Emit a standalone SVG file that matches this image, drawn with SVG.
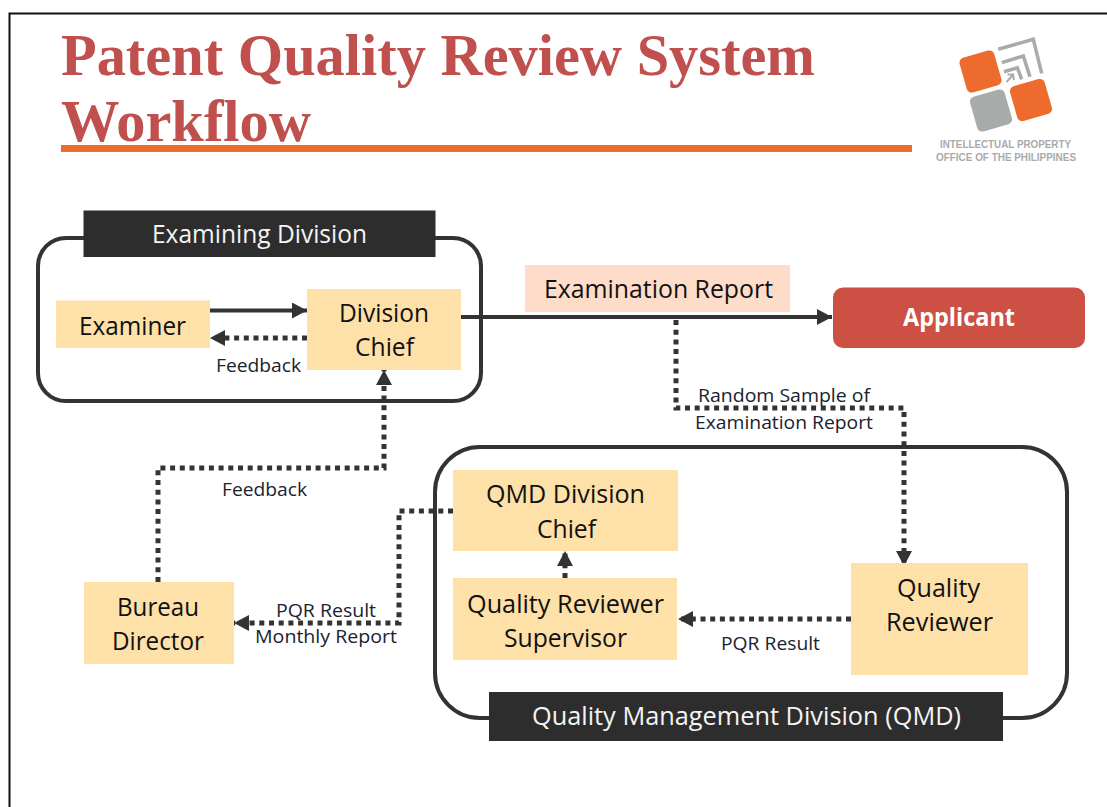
<svg xmlns="http://www.w3.org/2000/svg" width="1107" height="807" viewBox="0 0 1107 807">
<style>
.t{font-family:"Open Sans","Liberation Sans",sans-serif;text-anchor:middle}
.n{font-size:26px;fill:#111}
.l{font-size:19px;fill:#1a2230}
.h{font-size:25px;fill:#f4f4f4}
.b{fill:#fee0a9}
.c{fill:none;stroke:#333;stroke-width:4}
.s{fill:none;stroke:#333;stroke-width:4}
.d{fill:none;stroke:#333;stroke-width:5;stroke-dasharray:5 4.7}
.o{fill:#ec6b2d}
.g{fill:#a9abab}
.ch{fill:none;stroke:#a9abab;stroke-width:3.5}
.ti{font-family:"Liberation Serif",serif;font-weight:700;font-size:60px;fill:#c0504d}
.lg{font-family:"Liberation Sans",sans-serif;font-weight:700;font-size:10px;fill:#a8aaaa;text-anchor:middle}
</style>
<defs>
<marker id="a" markerUnits="userSpaceOnUse" markerWidth="17" markerHeight="17" refX="15" refY="8" orient="auto"><path d="M0,0L15,8L0,16Z" fill="#333"/></marker>
</defs>
<rect width="1107" height="807" fill="#fff"/>
<path d="M9.500,807V13.500H1107" fill="none" stroke="#111" stroke-width="2"/>
<g id="title">
<text class="ti" x="61" y="75" textLength="754" lengthAdjust="spacingAndGlyphs">Patent Quality Review System</text>
<text class="ti" x="61" y="141" textLength="250" lengthAdjust="spacingAndGlyphs">Workflow</text>
<rect x="61" y="145" width="851" height="7" fill="#ec6b2d"/>
</g>
<g id="logo">
<rect class="o" x="962.500" y="53.500" width="36" height="36" rx="5" transform="rotate(-16 980.5 71.5)"/>
<rect class="g" x="973" y="92.500" width="36" height="36" rx="5" transform="rotate(-16 991 110.5)"/>
<rect class="o" x="1013" y="82" width="36" height="36" rx="5" transform="rotate(-16 1031 100)"/>
<path class="ch" d="M998.300,49.300L1033.300,39.300L1041.700,73.300"/>
<path class="ch" d="M1001.700,62.700L1023.300,56L1030,76.700"/>
<path class="ch" d="M1004,71.700L1017.300,67.700L1021.700,79.300"/>
<path class="ch" style="stroke-width:2" d="M1006.500,82L1012.500,75.500M1007.500,74.500L1013,74.500L1014,80"/>
<text class="lg" x="1005.500" y="147.500" textLength="131" lengthAdjust="spacingAndGlyphs">INTELLECTUAL PROPERTY</text>
<text class="lg" x="1006" y="161" textLength="140" lengthAdjust="spacingAndGlyphs">OFFICE OF THE PHILIPPINES</text>
</g>
<g id="examining-division-frame"><rect class="c" x="38" y="238" width="443" height="163" rx="28"/></g>
<g id="qmd-frame"><rect class="c" x="435" y="447" width="632" height="271" rx="45"/></g>
<g id="connectors">
<path class="s" d="M210,310.500H307" marker-end="url(#a)"/>
<path class="d" d="M307,338H210" marker-end="url(#a)"/>
<path class="s" d="M461,317H832" marker-end="url(#a)"/>
<path class="d" d="M676,320V408H904V566" marker-end="url(#a)"/>
<path class="d" d="M158,582V468H384V370" marker-end="url(#a)"/>
<path class="d" d="M453,511H399V623H234" marker-end="url(#a)"/>
<path class="d" d="M565,578V551" marker-end="url(#a)"/>
<path class="d" d="M851,619H678" marker-end="url(#a)"/>
</g>
<g id="examining-division"><rect x="83.500" y="210.500" width="352" height="46.500" fill="#2d2d2d"/><text class="t h" x="259.500" y="243" textLength="215" lengthAdjust="spacingAndGlyphs">Examining Division</text></g>
<g id="examiner"><rect class="b" x="56" y="300.500" width="154" height="47.500"/><text class="t n" x="132.500" y="335" textLength="107" lengthAdjust="spacingAndGlyphs">Examiner</text></g>
<g id="division-chief"><rect class="b" x="307" y="289" width="154" height="81"/><text class="t n" x="384" y="322" textLength="90" lengthAdjust="spacingAndGlyphs">Division</text><text class="t n" x="384.500" y="356" textLength="59" lengthAdjust="spacingAndGlyphs">Chief</text></g>
<g id="examination-report"><rect x="525" y="265" width="265" height="47" fill="#fddcc9"/><text class="t h" x="658.500" y="298" textLength="229" lengthAdjust="spacingAndGlyphs" style="fill:#111">Examination Report</text></g>
<g id="applicant"><rect x="833" y="287.500" width="252" height="60.500" rx="10" fill="#cd5044"/><text class="t" x="959" y="326" font-size="25" font-weight="700" fill="#fff" textLength="112" lengthAdjust="spacingAndGlyphs">Applicant</text></g>
<g id="qmd-division-chief"><rect class="b" x="453" y="470" width="225" height="81"/><text class="t n" x="565.500" y="503" textLength="159" lengthAdjust="spacingAndGlyphs">QMD Division</text><text class="t n" x="566.500" y="538" textLength="59" lengthAdjust="spacingAndGlyphs">Chief</text></g>
<g id="quality-reviewer-supervisor"><rect class="b" x="453" y="578" width="224" height="82"/><text class="t n" x="565.500" y="613" textLength="197" lengthAdjust="spacingAndGlyphs">Quality Reviewer</text><text class="t n" x="565.500" y="647" textLength="123" lengthAdjust="spacingAndGlyphs">Supervisor</text></g>
<g id="quality-reviewer"><rect class="b" x="851" y="563" width="177" height="112"/><text class="t n" x="938.500" y="597" textLength="83" lengthAdjust="spacingAndGlyphs">Quality</text><text class="t n" x="939.500" y="631" textLength="107" lengthAdjust="spacingAndGlyphs">Reviewer</text></g>
<g id="bureau-director"><rect class="b" x="84" y="582" width="150" height="82"/><text class="t n" x="158" y="616" textLength="82" lengthAdjust="spacingAndGlyphs">Bureau</text><text class="t n" x="158" y="650" textLength="92" lengthAdjust="spacingAndGlyphs">Director</text></g>
<g id="quality-management-division"><rect x="489" y="692" width="514" height="49" fill="#2d2d2d"/><text class="t h" x="746.500" y="725" textLength="429" lengthAdjust="spacingAndGlyphs">Quality Management Division (QMD)</text></g>
<g id="labels">
<text class="t l" x="258.500" y="372" textLength="85" lengthAdjust="spacingAndGlyphs">Feedback</text>
<text class="t l" x="264.500" y="496" textLength="85" lengthAdjust="spacingAndGlyphs">Feedback</text>
<text class="t l" x="784" y="402" textLength="172" lengthAdjust="spacingAndGlyphs">Random Sample of</text>
<text class="t l" x="784" y="429" textLength="178" lengthAdjust="spacingAndGlyphs">Examination Report</text>
<text class="t l" x="326" y="617" textLength="100" lengthAdjust="spacingAndGlyphs">PQR Result</text>
<text class="t l" x="326" y="643" textLength="142" lengthAdjust="spacingAndGlyphs">Monthly Report</text>
<text class="t l" x="770.500" y="650" textLength="99" lengthAdjust="spacingAndGlyphs">PQR Result</text>
</g>
</svg>
